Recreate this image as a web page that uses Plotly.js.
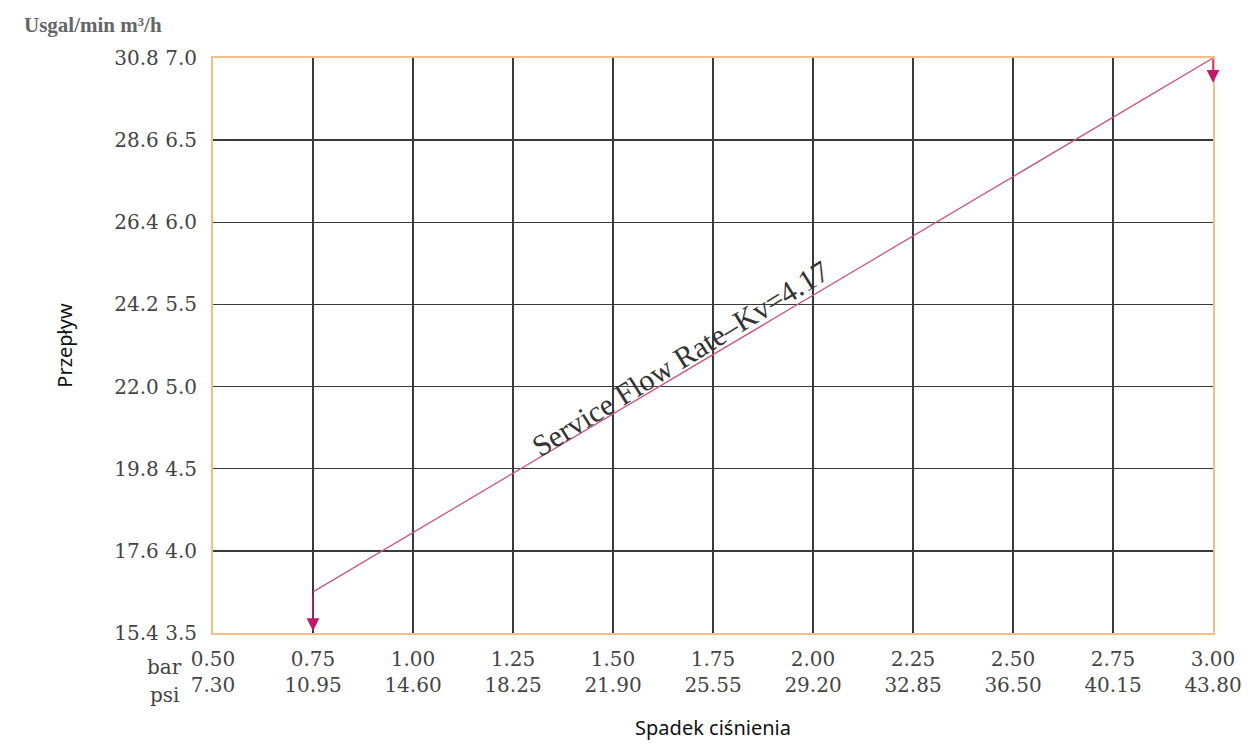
<!DOCTYPE html>
<html>
<head>
<meta charset="utf-8">
<script src="https://cdn.plot.ly/plotly-3.0.1.min.js"></script>
<style>
html,body{margin:0;padding:0;background:#fff;}
#chart{width:1248px;height:745px;}
#edge{position:absolute;left:8px;top:0;width:1px;height:745px;background:#dcdcdc;}
</style>
</head>
<body>
<div id="edge"></div>
<div id="chart"></div>
<script>
// Data
const barValues = [0.50, 0.75, 1.00, 1.25, 1.50, 1.75, 2.00, 2.25, 2.50, 2.75, 3.00];
const psiLabels = ["7.30","10.95","14.60","18.25","21.90","25.55","29.20","32.85","36.50","40.15","43.80"];
const m3hValues = [3.5, 4.0, 4.5, 5.0, 5.5, 6.0, 6.5, 7.0];
const usgalLabels = ["15.4","17.6","19.8","22.0","24.2","26.4","28.6","30.8"];
const lineX = [0.75, 3.00];
const lineY = [3.75, 7.00];
const arrowStartLeft = {x: 0.75, y: 3.75, toY: 3.5};
const arrowRight = {x: 3.00, y: 7.00, toY: 6.85};
const seriesLabel = "Service Flow Rate\u2013Kv=4.17";
const labelPos = {x: 1.6675, y: 5.17};

const xText = barValues.map((v, i) => v.toFixed(2) + "<br>" + psiLabels[i]);
const yText = m3hValues.map((v, i) => usgalLabels[i] + " " + v.toFixed(1));

const serif = "Liberation Serif, DejaVu Serif, serif";
const tickSerif = "DejaVu Serif, Liberation Serif, serif";
const tickColor = "#444444";

const trace = {
  x: lineX, y: lineY, mode: "lines", type: "scatter",
  line: {color: "#c9577c", width: 1.3},
  hoverinfo: "skip", showlegend: false
};

const layout = {
  width: 1248, height: 745,
  margin: {l: 213, r: 35, t: 58, b: 112},
  paper_bgcolor: "#ffffff", plot_bgcolor: "#ffffff",
  showlegend: false,
  xaxis: {
    range: [0.5, 3.0],
    tickmode: "array", tickvals: barValues, ticktext: xText,
    tickfont: {family: tickSerif, size: 20, color: tickColor},
    ticklabelstandoff: 7,
    showgrid: true, gridcolor: "#3a3a3a", gridwidth: 1.3,
    showline: true, linecolor: "#f0c088", linewidth: 2, mirror: true,
    zeroline: false, ticks: "", ticklen: 0,
    title: {text: "Spadek ciśnienia", font: {family: "Noto Sans, Open Sans, sans-serif", size: 20, color: "#111"}, standoff: 25},
    fixedrange: true
  },
  yaxis: {
    range: [3.5, 7.0],
    tickmode: "array", tickvals: m3hValues, ticktext: yText,
    tickfont: {family: tickSerif, size: 20, color: tickColor},
    ticklabelstandoff: 10,
    showgrid: true, gridcolor: "#3a3a3a", gridwidth: 1.3,
    showline: true, linecolor: "#f0c088", linewidth: 2, mirror: true,
    zeroline: false, ticks: "", ticklen: 0,
    title: {text: "Przepływ", font: {family: "Noto Sans, Open Sans, sans-serif", size: 20, color: "#111"}, standoff: 36},
    fixedrange: true
  },
  annotations: [
    {x: arrowStartLeft.x, y: arrowStartLeft.toY, ax: arrowStartLeft.x, ay: arrowStartLeft.y,
     xref: "x", yref: "y", axref: "x", ayref: "y", text: "", showarrow: true,
     arrowhead: 2, arrowsize: 1.7, arrowwidth: 1.5, arrowcolor: "#c2186b", standoff: 2},
    {x: arrowRight.x, y: arrowRight.toY, ax: arrowRight.x, ay: arrowRight.y,
     xref: "x", yref: "y", axref: "x", ayref: "y", text: "", showarrow: true,
     arrowhead: 2, arrowsize: 1.7, arrowwidth: 1.5, arrowcolor: "#c2186b", standoff: 0},
    {x: labelPos.x, y: labelPos.y, xref: "x", yref: "y", text: seriesLabel, showarrow: false,
     textangle: -31.8, font: {family: serif, size: 30, color: "#333"}},
    {x: 0, y: 1, xref: "paper", yref: "paper", xshift: -191, yshift: 33, xanchor: "left", yanchor: "middle",
     text: "<b>Usgal/min m³/h</b>", showarrow: false, font: {family: serif, size: 21, color: "#666"}},
    {x: 0.5, y: 0, xref: "x", yref: "paper", xshift: -29, yshift: -34, xanchor: "right", yanchor: "middle",
     text: "bar", showarrow: false, font: {family: tickSerif, size: 20, color: tickColor}},
    {x: 0.5, y: 0, xref: "x", yref: "paper", xshift: -32, yshift: -62, xanchor: "right", yanchor: "middle",
     text: "psi", showarrow: false, font: {family: tickSerif, size: 20, color: tickColor}}
  ]
};

Plotly.newPlot("chart", [trace], layout, {displayModeBar: false, staticPlot: true});
</script>
</body>
</html>
